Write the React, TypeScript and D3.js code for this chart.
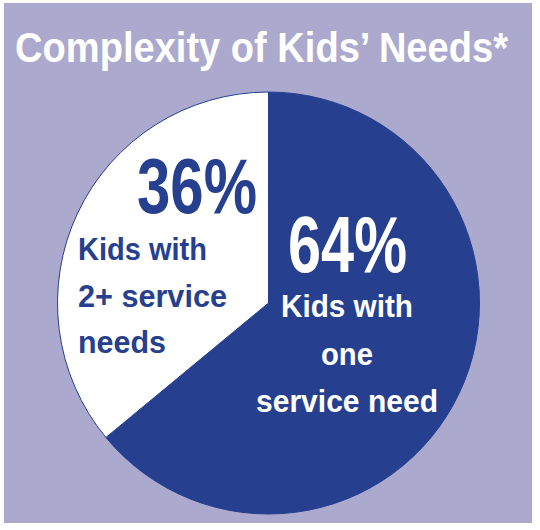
import React, { useLayoutEffect, useRef, useState } from "react";
import * as d3 from "d3";

const title = "Complexity of Kids\u2019 Needs*";
const categories = ["Kids with one service need", "Kids with 2+ service needs"];
const values = [64, 36];
const colors = ["#263f8e", "#ffffff"];
const labelsOne = ["Kids with", "one", "service need"];
const labelsTwo = ["Kids with", "2+ service", "needs"];

const W = 540;
const H = 530;
const BG = "#aba9cd";
const BLUE = "#263f8e";
const FONT = "'Liberation Sans', Arial, sans-serif";

type FitProps = {
  x: number;
  y: number;
  width: number;
  anchor: "start" | "middle";
  size: number;
  fill: string;
  children: string;
};

function FitText({ x, y, width, anchor, size, fill, children }: FitProps) {
  const ref = useRef<SVGTextElement>(null);
  const [sx, setSx] = useState(1);
  useLayoutEffect(() => {
    if (ref.current) {
      const w = ref.current.getComputedTextLength();
      if (w > 0) setSx(width / w);
    }
  }, [width, children, size]);
  return (
    <text
      ref={ref}
      x={0}
      y={0}
      transform={`translate(${x},${y}) scale(${sx},1)`}
      textAnchor={anchor}
      fontFamily={FONT}
      fontWeight="bold"
      fontSize={size}
      fill={fill}
    >
      {children}
    </text>
  );
}

export default function App() {
  const cx = 268.5;
  const cy = 303;
  const r = 211;
  const pie = d3.pie<number>().sort(null).value((d) => d);
  const arcs = pie(values);
  const arcGen = d3.arc<d3.PieArcDatum<number>>().innerRadius(0).outerRadius(r);

  const lineW1 = [132, 52, 182];
  const lineW2 = [129, 149, 88];

  return (
    <svg
      width={W}
      height={H}
      style={{ position: "fixed", left: 0, top: 0, display: "block" }}
    >
      <rect x={0} y={0} width={W} height={H} fill="#ffffff" />
      <rect x={4} y={3} width={528} height={520} fill={BG} />
      <FitText x={261.5} y={62} width={493} anchor="middle" size={42} fill="#ffffff">
        {title}
      </FitText>
      <g transform={`translate(${cx},${cy})`}>
        {arcs.map((a, i) => (
          <path
            key={categories[i]}
            d={arcGen(a) || ""}
            fill={colors[i]}
            stroke={BLUE}
            strokeWidth={1}
          />
        ))}
      </g>
      <FitText x={347.5} y={272} width={119} anchor="middle" size={80} fill="#ffffff">
        {values[0] + "%"}
      </FitText>
      {labelsOne.map((t, i) => (
        <FitText
          key={t}
          x={347}
          y={317 + i * 47.5}
          width={lineW1[i]}
          anchor="middle"
          size={31}
          fill="#ffffff"
        >
          {t}
        </FitText>
      ))}
      <FitText x={197} y={213} width={120} anchor="middle" size={78} fill={BLUE}>
        {values[1] + "%"}
      </FitText>
      {labelsTwo.map((t, i) => (
        <FitText
          key={t}
          x={78}
          y={260 + i * 46.5}
          width={lineW2[i]}
          anchor="start"
          size={31}
          fill={BLUE}
        >
          {t}
        </FitText>
      ))}
    </svg>
  );
}
